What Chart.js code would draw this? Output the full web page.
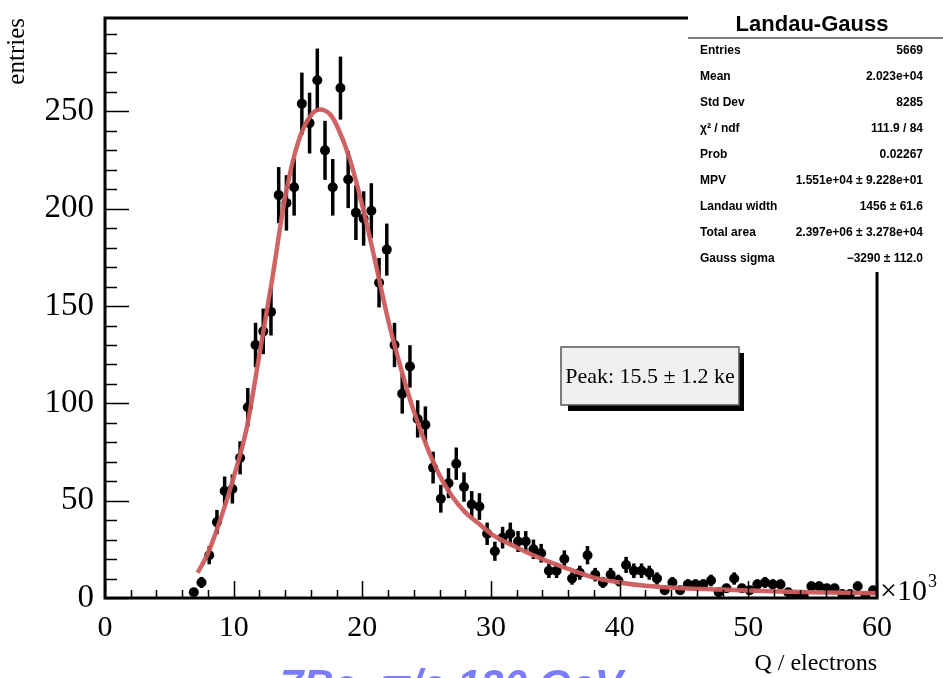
<!DOCTYPE html>
<html>
<head>
<meta charset="UTF-8">
<title>Landau-Gauss</title>
<script src="https://cdn.jsdelivr.net/npm/chart.js"></script>
<style>
  html, body { margin: 0; padding: 0; background: #fff; }
  #wrap { width: 943px; height: 678px; }
</style>
</head>
<body>
<div id="wrap"><canvas id="chartCanvas" width="943" height="678"></canvas></div>
<script>
// histogram bins (x in units of 10^3 electrons, bin width 0.6)
const binCenters = [
  6.9, 7.5, 8.1, 8.7, 9.3, 9.9, 10.5, 11.1, 11.7, 12.3, 12.9, 13.5, 14.1, 14.7, 15.3,
  15.9, 16.5, 17.1, 17.7, 18.3, 18.9, 19.5, 20.1, 20.7, 21.3, 21.9, 22.5, 23.1, 23.7,
  24.3, 24.9, 25.5, 26.1, 26.7, 27.3, 27.9, 28.5, 29.1, 29.7, 30.3, 30.9, 31.5, 32.1,
  32.7, 33.3, 33.9, 34.5, 35.1, 35.7, 36.3, 36.9, 37.5, 38.1, 38.7, 39.3, 39.9, 40.5,
  41.1, 41.7, 42.3, 42.9, 43.5, 44.1, 44.7, 45.3, 45.9, 46.5, 47.1, 47.7, 48.3, 48.9,
  49.5, 50.1, 50.7, 51.3, 51.9, 52.5, 53.1, 53.7, 54.3, 54.9, 55.5, 56.1, 56.7, 57.3,
  57.9, 58.5, 59.1, 59.7
];
const binCounts = [
  3, 8, 22, 39, 55, 56, 72, 98, 130, 137, 147, 207, 203, 211, 254,
  244, 266, 230, 211, 262, 215, 198, 195, 199, 162, 179, 130, 105, 119,
  92, 89, 67, 51, 59, 69, 57, 48, 47, 33, 24, 31, 33, 29,
  29, 25, 23, 14, 14, 20, 10, 13, 22, 12, 8, 12, 9, 17,
  14, 14, 13, 10, 4, 8, 4, 7, 7, 7, 9, 3, 5, 10,
  5, 4, 7, 8, 7, 7, 3, 1, 1, 6, 6, 5, 5, 2,
  2, 6, 1, 4
];

// fitted Landau (x) Gauss curve, sampled
const fitX = [7.2, 8, 9, 10, 11, 12, 13, 14, 15, 16, 16.7, 17.5, 18, 19, 20, 21, 22, 23, 24,
  25, 26, 27, 28, 29, 30, 32, 34, 36, 38, 40, 42, 45, 47.5, 50, 52.5, 55, 57.5, 60];
const fitY = [13, 23, 41, 62, 87, 125, 164, 206, 234, 248, 251, 248.5, 243, 226, 201.5, 173,
  143, 118, 96, 78, 63, 52, 44, 38.5, 33, 26, 20, 15, 10.5, 8, 6.3, 5, 4.4, 3.8, 3.3, 3, 2.7, 2.4];

const xTicks = [0, 10, 20, 30, 40, 50, 60];
const yTicks = [0, 50, 100, 150, 200, 250];
const xMinorStep = 2;
const yMinorStep = 10;

const statLabels = ['Entries', 'Mean', 'Std Dev', 'χ² / ndf', 'Prob', 'MPV', 'Landau width', 'Total area', 'Gauss sigma'];
const statValues = ['5669', '2.023e+04', '8285', '111.9 / 84', '0.02267', '1.551e+04 ± 9.228e+01',
  '1456 ± 61.6', '2.397e+06 ± 3.278e+04', '−3290 ± 112.0'];

const serif = 'Liberation Serif, Times New Roman, serif';
const sans = 'Liberation Sans, Arial, sans-serif';

// vertical sqrt(N) error bars under the markers
const errorBars = {
  id: 'errorBars',
  beforeDatasetDraw(chart, args) {
    if (args.index !== 0) return;
    const ctx = chart.ctx, x = chart.scales.x, y = chart.scales.y;
    ctx.save();
    ctx.strokeStyle = '#000';
    ctx.lineWidth = 3.5;
    binCenters.forEach((c, i) => {
      const n = binCounts[i];
      if (!n) return;
      const e = Math.sqrt(n);
      const px = x.getPixelForValue(c);
      ctx.beginPath();
      ctx.moveTo(px, y.getPixelForValue(Math.max(0, n - e)));
      ctx.lineTo(px, y.getPixelForValue(n + e));
      ctx.stroke();
    });
    ctx.restore();
  }
};

// frame with inward major/minor ticks
const frame = {
  id: 'frame',
  afterDatasetsDraw(chart) {
    const ctx = chart.ctx, a = chart.chartArea, x = chart.scales.x, y = chart.scales.y;
    ctx.save();
    ctx.strokeStyle = '#000';
    ctx.lineWidth = 1.5;
    ctx.beginPath();
    for (let v = 0; v <= y.max; v += yMinorStep) {
      const py = Math.round(y.getPixelForValue(v)) + 0.5;
      const len = yTicks.includes(v) ? 24 : 12;
      ctx.moveTo(a.left, py);
      ctx.lineTo(a.left + len, py);
    }
    for (let v = 0; v <= x.max; v += xMinorStep) {
      const px = Math.round(x.getPixelForValue(v)) + 0.5;
      const len = xTicks.includes(v) ? 17 : 8;
      ctx.moveTo(px, a.bottom);
      ctx.lineTo(px, a.bottom - len);
    }
    ctx.stroke();
    ctx.lineWidth = 3;
    ctx.strokeRect(a.left, a.top, a.right - a.left, a.bottom - a.top);
    ctx.restore();
  },
  afterDraw(chart) {
    const ctx = chart.ctx, a = chart.chartArea;
    ctx.save();

    // x10^3 exponent on the x axis
    ctx.fillStyle = '#000';
    ctx.textBaseline = 'alphabetic';
    ctx.textAlign = 'left';
    ctx.font = '30px ' + serif;
    ctx.fillText('×10', a.right + 3, a.bottom + 2);
    ctx.font = '18px ' + serif;
    ctx.fillText('3', a.right + 51, a.bottom - 11);

    // fit result box
    ctx.fillStyle = '#fff';
    ctx.fillRect(688, 0, 255, 272);
    ctx.strokeStyle = '#000';
    ctx.lineWidth = 1.2;
    ctx.beginPath();
    ctx.moveTo(688, 38);
    ctx.lineTo(943, 38);
    ctx.stroke();
    ctx.fillStyle = '#000';
    ctx.textAlign = 'center';
    ctx.textBaseline = 'middle';
    ctx.font = 'bold 22px ' + sans;
    ctx.fillText('Landau-Gauss', 812, 25);
    ctx.font = 'bold 12px ' + sans;
    statLabels.forEach((lab, i) => {
      const ty = 51 + i * 26;
      ctx.textAlign = 'left';
      ctx.fillText(lab, 700, ty);
      ctx.textAlign = 'right';
      ctx.fillText(statValues[i], 923, ty);
    });

    // peak label with drop shadow
    ctx.fillStyle = '#000';
    ctx.fillRect(568, 353, 176, 58);
    ctx.fillStyle = '#f0f0f0';
    ctx.fillRect(561, 347, 178, 58);
    ctx.strokeStyle = '#555';
    ctx.lineWidth = 1.5;
    ctx.strokeRect(561, 347, 178, 58);
    ctx.fillStyle = '#000';
    ctx.textAlign = 'center';
    ctx.font = '22px ' + serif;
    ctx.fillText('Peak: 15.5 ± 1.2 ke', 650, 377);

    // beam caption below the plot
    ctx.fillStyle = '#7b7bff';
    ctx.textAlign = 'left';
    ctx.textBaseline = 'alphabetic';
    ctx.font = 'italic bold 42px ' + sans;
    ctx.fillText('7Be, π/e 120 GeV', 280, 699);
    ctx.restore();
  }
};

const ctx = document.getElementById('chartCanvas').getContext('2d');
new Chart(ctx, {
  type: 'scatter',
  data: {
    datasets: [
      {
        label: 'data',
        data: binCenters.map((c, i) => ({ x: c, y: binCounts[i] })),
        showLine: false,
        pointRadius: 5,
        pointBackgroundColor: '#000',
        pointBorderWidth: 0,
        order: 2
      },
      {
        label: 'fit',
        data: fitX.map((c, i) => ({ x: c, y: fitY[i] })),
        showLine: true,
        pointRadius: 0,
        borderColor: 'rgba(205, 92, 92, 0.95)',
        borderWidth: 4.5,
        cubicInterpolationMode: 'monotone',
        order: 1
      }
    ]
  },
  options: {
    responsive: false,
    animation: false,
    devicePixelRatio: 1,
    layout: { padding: { left: 0, top: 18, right: 66, bottom: 0 } },
    plugins: { legend: { display: false }, tooltip: { enabled: false } },
    scales: {
      x: {
        type: 'linear', min: 0, max: 60,
        afterBuildTicks: s => { s.ticks = xTicks.map(v => ({ value: v })); },
        afterFit: s => { s.height = 80; s.paddingLeft = 0; s.paddingRight = 0; },
        grid: { display: false },
        border: { display: false },
        ticks: { color: '#000', font: { family: serif, size: 30 }, padding: 4, maxRotation: 0, autoSkip: false },
        title: { display: true, text: 'Q / electrons', align: 'end', color: '#000', font: { family: serif, size: 24 }, padding: 0 }
      },
      y: {
        type: 'linear', min: 0, max: 298,
        afterBuildTicks: s => { s.ticks = yTicks.map(v => ({ value: v })); },
        afterFit: s => { s.width = 105; s.paddingTop = 0; s.paddingBottom = 0; },
        grid: { display: false },
        border: { display: false },
        ticks: { color: '#000', font: { family: serif, size: 33 }, padding: 3, autoSkip: false },
        title: { display: true, text: 'entries', align: 'end', color: '#000', font: { family: serif, size: 25 }, padding: 2 }
      }
    }
  },
  plugins: [errorBars, frame]
});
</script>
</body>
</html>
